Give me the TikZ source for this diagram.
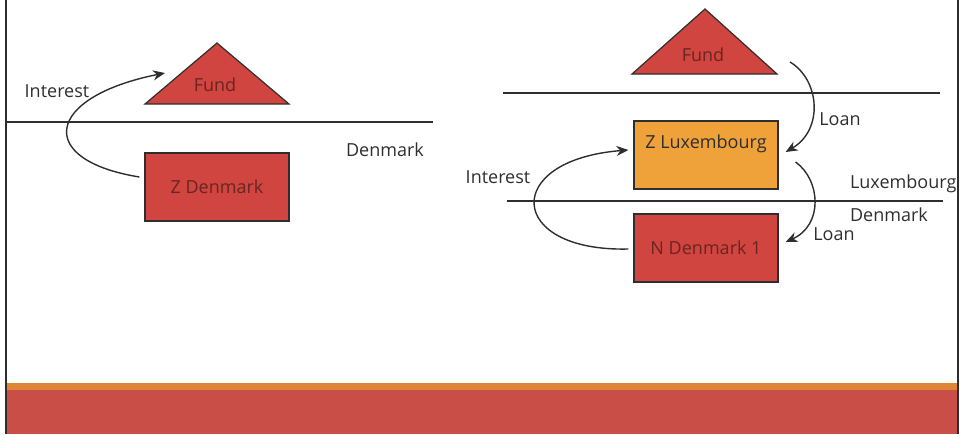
\documentclass[tikz,border=0pt]{standalone}
\usepackage{fontspec}
\setmainfont{Open Sans}
\usepackage{tikz}
\usetikzlibrary{arrows.meta}
\definecolor{Ink}{HTML}{2E2E2E}
\definecolor{FundRed}{HTML}{D0453F}
\definecolor{LuxOrange}{HTML}{F0A23A}
\definecolor{BarRed}{HTML}{C84E47}
\definecolor{BarOrange}{HTML}{DD8638}
\definecolor{Maroon}{HTML}{6A2422}

\begin{document}
\begin{tikzpicture}[
  x=0.5pt, y=-0.5pt,
  font=\fontsize{9}{11}\selectfont,
  entity/.style={draw=Ink, line width=0.6pt, fill=FundRed, text=Maroon, minimum width=72pt, minimum height=34pt, inner sep=0pt},
  fundtri/.style={draw=Ink, line width=0.6pt, fill=FundRed},
  border/.style={draw=Ink, line width=0.7pt},
  flow/.style={-{Stealth[length=6pt, width=5pt]}, line width=0.7pt, color=Ink},
  country/.style={anchor=west, text=Ink}
]
  \useasboundingbox (0,0) rectangle (961,434);
  \fill[BarRed] (6,383) rectangle (958,434);
  \fill[BarOrange] (6,383) rectangle (958,390);
  \draw[border] (6,0) -- (6,434);
  \draw[border] (958,0) -- (958,434);

  \fill[fundtri] (145,104) -- (217,43) -- (289,104) -- cycle;
  \node[text=Maroon] (fundL) at (215,85) {Fund};
  \node[entity] (zden) at (217,187) {Z Denmark\hspace{8pt}};
  \draw[border] (6,122) -- (433,122);
  \node[text=Ink] (dkL) at (385,150) {Denmark};
  \node[text=Ink] (intL) at (57,91) {Interest};
  \draw[flow] ([shift={(-5,-10)}]zden.west) .. controls +(-105,-17) and +(-120,24) .. ([shift={(-50,-12)}]fundL.center);

  \fill[fundtri] (632,74) -- (705,9) -- (777,74) -- cycle;
  \node[text=Maroon] (fundR) at (703,55) {Fund};
  \draw[border] (503,93) -- (940,93);
  \node[entity, fill=LuxOrange, text=Ink, text depth=13pt] (zlux) at (706,155) {Z Luxembourg};
  \draw[border] (507,201) -- (943,201);
  \node[entity] (ndk) at (706,248) {N Denmark 1};
  \node[country] (luxR) at (843,184) {Luxembourg};
  \node[country] (dkR) at (843,215) {Denmark};
  \node[text=Ink] (loan1) at (840,119) {Loan};
  \node[text=Ink] (loan2) at (834,234) {Loan};
  \node[text=Ink] (intR) at (498,177) {Interest};
  \draw[flow] ([shift={(87,7)}]fundR.center) .. controls +(30,18) and +(38,-22) .. ([shift={(7,-3)}]zlux.east);
  \draw[flow] ([shift={(17,7)}]zlux.east) .. controls +(25,18) and +(38,-17) .. ([shift={(7,-6)}]ndk.east);
  \draw[flow] ([shift={(-5,1)}]ndk.west) .. controls +(-122,3) and +(-127,10) .. ([shift={(-5,-5)}]zlux.west);
\end{tikzpicture}
\end{document}
